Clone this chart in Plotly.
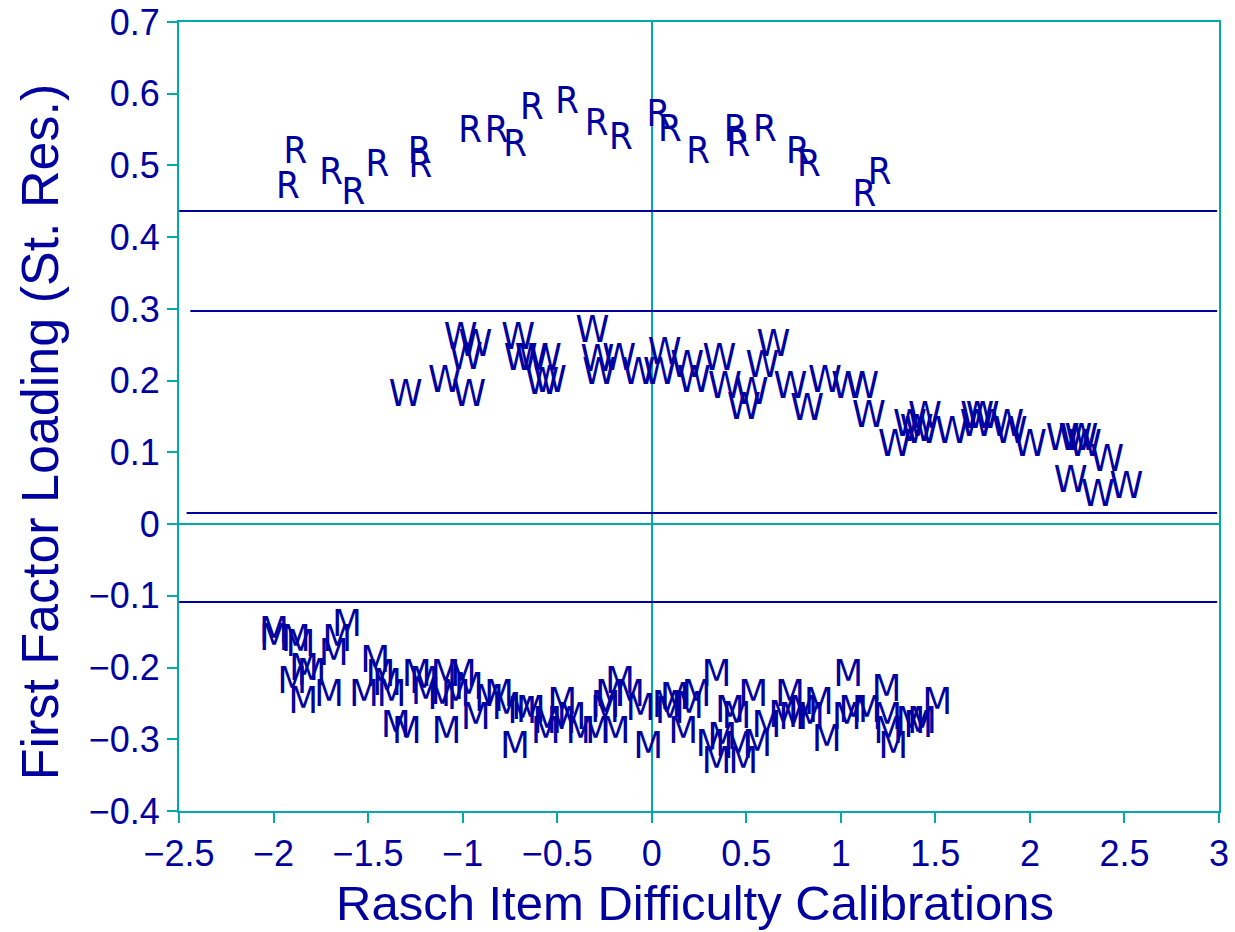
import plotly.graph_objects as go

# ---------------- data ----------------
R_x = [-1.924, -1.885, -1.695, -1.578, -1.451, -1.228, -1.224, -0.961, -0.820, -0.723,
       -0.634, -0.448, -0.291, -0.163, 0.035, 0.096, 0.246, 0.444, 0.458, 0.599,
       0.773, 0.831, 1.124, 1.205]
R_y = [0.468, 0.517, 0.488, 0.459, 0.498, 0.517, 0.497, 0.546, 0.546, 0.527,
       0.578, 0.587, 0.556, 0.536, 0.568, 0.547, 0.517, 0.547, 0.526, 0.547,
       0.517, 0.498, 0.457, 0.488]

W_x = [-1.301, -1.094, -0.966, -1.010, -0.933, -0.983, -0.706, -0.693, -0.635, -0.565,
       -0.579, -0.538, -0.314, -0.287, -0.278, -0.172, -0.071, 0.068, 0.043, 0.188,
       0.223, 0.358, 0.387, 0.488, 0.528, 0.586, 0.643, 0.734, 0.822, 0.916,
       1.039, 1.113, 1.149, 1.286, 1.365, 1.401, 1.445, 1.427, 1.589, 1.721,
       1.718, 1.750, 1.880, 1.898, 2.000, 2.173, 2.240, 2.273, 2.291, 2.409,
       2.215, 2.360, 2.511]
W_y = [0.178, 0.198, 0.178, 0.257, 0.248, 0.229, 0.257, 0.228, 0.228, 0.228,
       0.194, 0.197, 0.267, 0.226, 0.208, 0.228, 0.208, 0.237, 0.208, 0.219,
       0.198, 0.228, 0.189, 0.160, 0.180, 0.219, 0.247, 0.189, 0.159, 0.198,
       0.189, 0.189, 0.148, 0.108, 0.136, 0.129, 0.147, 0.127, 0.126, 0.147,
       0.136, 0.147, 0.136, 0.126, 0.108, 0.117, 0.117, 0.117, 0.108, 0.087,
       0.058, 0.038, 0.049]

M_x = [-1.998, -1.998, -1.883, -1.857, -1.901, -1.839, -1.799, -1.843, -1.707, -1.681,
       -1.663, -1.612, -1.522, -1.462, -1.434, -1.376, -1.400, -1.354, -1.296, -1.242,
       -1.204, -1.195, -1.090, -1.005, -1.085, -1.108, -1.037, -0.967, -0.931, -0.861,
       -0.808, -0.768, -0.723, -0.685, -0.640, -0.561, -0.553, -0.473, -0.477, -0.424,
       -0.376, -0.297, -0.244, -0.221, -0.168, -0.191, -0.115, -0.059, -0.247, -0.018,
       0.079, 0.096, 0.122, 0.167, 0.197, 0.237, 0.343, 0.311, 0.343, 0.373,
       0.414, 0.449, 0.458, 0.484, 0.537, 0.558, 0.607, 0.696, 0.731, 0.748,
       0.801, 0.837, 0.884, 0.925, 1.039, 1.031, 1.066, 1.137, 1.242, 1.245,
       1.251, 1.277, 1.369, 1.409, 1.430, 1.510]
M_y = [-0.153, -0.162, -0.164, -0.170, -0.222, -0.204, -0.211, -0.250, -0.241, -0.183,
       -0.164, -0.143, -0.241, -0.193, -0.213, -0.241, -0.225, -0.283, -0.292, -0.213,
       -0.222, -0.238, -0.213, -0.213, -0.292, -0.245, -0.241, -0.231, -0.273, -0.248,
       -0.241, -0.259, -0.313, -0.264, -0.262, -0.292, -0.278, -0.252, -0.278, -0.273,
       -0.292, -0.292, -0.255, -0.241, -0.222, -0.292, -0.241, -0.260, -0.262, -0.313,
       -0.256, -0.264, -0.245, -0.292, -0.257, -0.241, -0.213, -0.310, -0.334, -0.301,
       -0.262, -0.271, -0.313, -0.334, -0.241, -0.310, -0.283, -0.269, -0.241, -0.273,
       -0.262, -0.273, -0.252, -0.303, -0.213, -0.273, -0.262, -0.262, -0.234, -0.273,
       -0.292, -0.313, -0.278, -0.283, -0.278, -0.252]

# horizontal reference lines
ref_y = [0.4365, 0.297, 0.0155, -0.1086]
ref_x0 = [-2.50, -2.44, -2.46, -2.52]
ref_x1 = [2.99, 2.99, 2.99, 2.99]

x_ticks = [-2.5, -2, -1.5, -1, -0.5, 0, 0.5, 1, 1.5, 2, 2.5, 3]
y_ticks = [0.7, 0.6, 0.5, 0.4, 0.3, 0.2, 0.1, 0, -0.1, -0.2, -0.3, -0.4]

TEAL = "#00AAAA"
BLUE = "#0000A0"
FONT = "Liberation Sans, Arial, sans-serif"
LETTER_FONT = "Liberation Sans Narrow, DejaVu Sans Condensed, Liberation Sans, sans-serif"

fig = go.Figure()

for y, x0, x1 in zip(ref_y, ref_x0, ref_x1):
    fig.add_trace(go.Scatter(x=[x0, x1], y=[y, y], mode="lines",
                             line=dict(color=BLUE, width=2), cliponaxis=False,
                             hoverinfo="skip", showlegend=False))

for xs, ys, ch in [(R_x, R_y, "R"), (W_x, W_y, "W"), (M_x, M_y, "M")]:
    fig.add_trace(go.Scatter(x=xs, y=ys, mode="text", text=[ch] * len(xs),
                             textposition="middle center",
                             textfont=dict(family=LETTER_FONT, size=38, color=BLUE),
                             cliponaxis=False, showlegend=False))

axis_common = dict(showline=True, mirror=True, linecolor=TEAL, linewidth=2,
                   ticks="outside", ticklen=10, tickwidth=2, tickcolor=TEAL,
                   showgrid=False, zeroline=True, zerolinecolor=TEAL, zerolinewidth=2,
                   automargin=False, ticklabeloverflow="allow",
                   tickfont=dict(family=FONT, size=36, color=BLUE))

fig.update_xaxes(range=[-2.5, 3], tickvals=x_ticks, **axis_common)
fig.update_yaxes(range=[-0.4, 0.7], tickvals=y_ticks, **axis_common)

fig.add_annotation(text="Rasch Item Difficulty Calibrations", xref="paper", yref="paper",
                   x=0.4966, y=-0.1166, xanchor="center", yanchor="middle", showarrow=False,
                   font=dict(family=FONT, size=49, color=BLUE))
fig.add_annotation(text="First Factor Loading (St. Res.)", xref="paper", yref="paper",
                   x=-0.1337, y=0.480, xanchor="center", yanchor="middle", showarrow=False,
                   textangle=-90, font=dict(family=FONT, size=52, color=BLUE))

fig.update_layout(width=1235, height=932,
                  margin=dict(l=179, r=16, t=22, b=121, autoexpand=False),
                  plot_bgcolor="white", paper_bgcolor="white", showlegend=False)

# remove the page's default body margin so the figure fills the window exactly
fig.write_html("out.html", config={"displayModeBar": False},
               post_script="document.body.style.margin='0';document.body.style.overflow='hidden';")
